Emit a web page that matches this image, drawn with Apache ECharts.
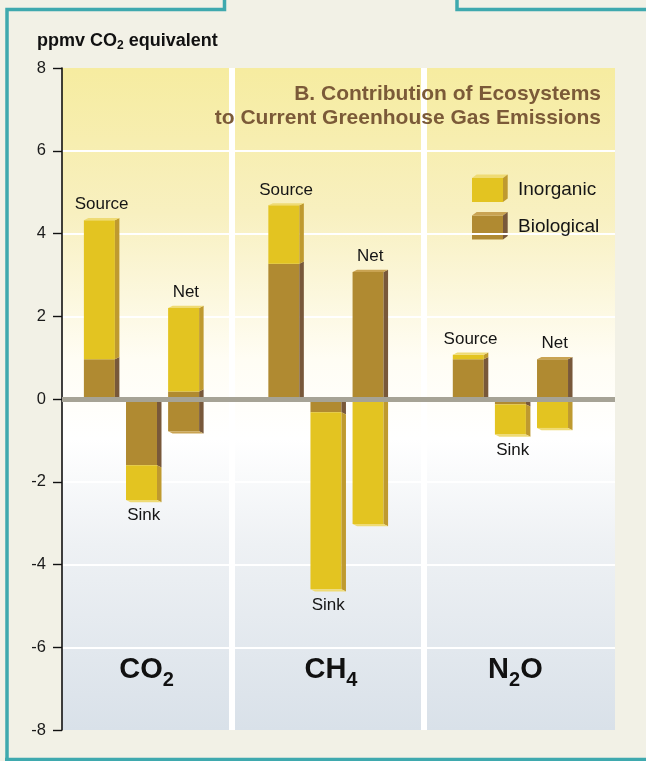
<!DOCTYPE html>
<html>
<head>
<meta charset="utf-8">
<script src="https://cdn.jsdelivr.net/npm/echarts@6/dist/echarts.min.js"></script>
<style>
html, body { margin: 0; padding: 0; background: #f2f1e6; }
#chart { width: 646px; height: 761px; }
</style>
</head>
<body>
<div id="chart"></div>
<script>
// gases (rich text, {s|..} = subscript) and the three bars drawn for each gas
const gases = ['CO{s|2}', 'CH{s|4}', 'N{s|2}O'];
const barKinds = ['Source', 'Sink', 'Net'];

// one entry per bar: CO2 Source/Sink/Net, CH4 Source/Sink/Net, N2O Source/Sink/Net
// ppmv CO2 equivalent, low and high end of each coloured segment
const bioLow    = [0,    -1.6,  -0.78, 0,    -0.32, 0,     0,    -0.13, 0];
const bioHigh   = [0.96,  0,     0.18, 3.27,  0,    3.07,  0.96,  0,    0.96];
const inorgLow  = [0.96, -2.44,  0.18, 3.27, -4.6, -3.02,  0.96, -0.86, -0.7];
const inorgHigh = [4.32, -1.6,   2.2,  4.68, -0.32, 0,     1.07, -0.13, 0];

const yMin = -8, yMax = 8, yStep = 2;

const FONT = "'Liberation Sans', Arial, Helvetica, sans-serif";
const KIND_STEP = 0.2283;   // distance between bars of one gas, in gas units
const HALF = 15.5, D = 4.5, DY = 2.2;

const barTop = i => Math.max(bioHigh[i], inorgHigh[i]);
const barBottom = i => Math.min(bioLow[i], inorgLow[i]);
const xOf = i => Math.floor(i / 3) + (i % 3 - 1) * KIND_STEP;
const lift = v => v > 0 ? -DY : (v < 0 ? DY : 0);

function segmentRenderer(front, side, cap) {
  return function (params, api) {
    const i = api.value(0), lo = api.value(1), hi = api.value(2);
    if (lo === hi) return;
    const pHi = api.coord([xOf(i), hi]);
    const pLo = api.coord([xOf(i), lo]);
    const x0 = pHi[0] - HALF, x1 = pHi[0] + HALF;
    const yT = pHi[1], yB = pLo[1];
    const children = [
      { type: 'rect', shape: { x: x0, y: yT, width: x1 - x0, height: yB - yT }, style: { fill: front } },
      { type: 'polygon', shape: { points: [[x1, yT], [x1 + D, yT + lift(hi)], [x1 + D, yB + lift(lo)], [x1, yB]] }, style: { fill: side } }
    ];
    if (hi === barTop(i) && hi > 0) {
      children.push({ type: 'polygon', shape: { points: [[x0, yT], [x1, yT], [x1 + D, yT - DY], [x0 + D, yT - DY]] }, style: { fill: cap } });
    }
    if (lo === barBottom(i) && lo < 0) {
      children.push({ type: 'polygon', shape: { points: [[x0, yB], [x1, yB], [x1 + D, yB + DY], [x0 + D, yB + DY]] }, style: { fill: cap } });
    }
    return { type: 'group', children };
  };
}

function swatch(y, front, side, cap) {
  const x0 = 472, x1 = 503, h = 24, d = 4.7, dy = 3.5;
  return {
    type: 'group',
    children: [
      { type: 'rect', shape: { x: x0, y: y, width: x1 - x0, height: h }, style: { fill: front } },
      { type: 'polygon', shape: { points: [[x0, y], [x1, y], [x1 + d, y - dy], [x0 + d, y - dy]] }, style: { fill: cap } },
      { type: 'polygon', shape: { points: [[x1, y], [x1 + d, y - dy], [x1 + d, y + h - dy], [x1, y + h]] }, style: { fill: side } }
    ]
  };
}

const INORG = ['#e3c421', '#bf9a2f', '#efdb74'];
const BIO = ['#b08a31', '#78583a', '#c9a352'];

const chart = echarts.init(document.getElementById('chart'));

const option = {
  backgroundColor: '#f2f1e6',
  animation: false,
  grid: {
    left: 62, right: 31, top: 68, bottom: 31,
    show: true, borderWidth: 0,
    backgroundColor: new echarts.graphic.LinearGradient(0, 0, 0, 1, [
      { offset: 0, color: '#f6eca0' },
      { offset: 0.22, color: '#f8f0c0' },
      { offset: 0.44, color: '#fffdf4' },
      { offset: 0.56, color: '#ffffff' },
      { offset: 0.72, color: '#eef1f4' },
      { offset: 1, color: '#d9e1e9' }
    ])
  },
  xAxis: {
    type: 'value', min: -0.431, max: 2.567,
    show: false
  },
  yAxis: {
    type: 'value', min: yMin, max: yMax, interval: yStep,
    axisLine: { show: true, onZero: false, lineStyle: { color: '#111', width: 1.6 } },
    axisTick: { show: true, length: 9, lineStyle: { color: '#111', width: 1.4 } },
    axisLabel: { color: '#1a1a1a', fontSize: 16.5, fontFamily: FONT, margin: 16 },
    splitLine: { show: true, showMinLine: false, showMaxLine: false, lineStyle: { color: '#ffffff', width: 2 } }
  },
  series: [
    {
      // white columns between the gases
      type: 'line', data: [], z: 1, silent: true,
      markLine: {
        silent: true, symbol: 'none', label: { show: false },
        lineStyle: { color: '#ffffff', width: 6, type: 'solid' },
        data: [{ xAxis: 0.493 }, { xAxis: 1.535 }]
      }
    },
    {
      name: 'Biological', type: 'custom', z: 3,
      renderItem: segmentRenderer(BIO[0], BIO[1], BIO[2]),
      encode: { x: 0, y: [1, 2] },
      data: bioLow.map((v, i) => [i, v, bioHigh[i]])
    },
    {
      name: 'Inorganic', type: 'custom', z: 3,
      renderItem: segmentRenderer(INORG[0], INORG[1], INORG[2]),
      encode: { x: 0, y: [1, 2] },
      data: inorgLow.map((v, i) => [i, v, inorgHigh[i]])
    },
    {
      // zero line over the bars
      type: 'line', data: [], z: 5, silent: true,
      markLine: {
        silent: true, symbol: 'none', label: { show: false },
        lineStyle: { color: '#a6a396', width: 5, type: 'solid' },
        data: [{ yAxis: 0 }]
      }
    },
    {
      // Source / Sink / Net labels
      type: 'custom', z: 6, silent: true,
      encode: { x: 0 },
      data: bioLow.map((v, i) => [i]),
      renderItem: function (params, api) {
        const i = api.value(0);
        const kind = barKinds[i % 3];
        const sink = kind === 'Sink';
        const p = api.coord([xOf(i), sink ? barBottom(i) : barTop(i)]);
        return {
          type: 'text', x: p[0] + D / 2, y: sink ? p[1] + 7 : p[1] - 7,
          style: {
            text: kind, fill: '#151515', fontSize: 17, fontFamily: FONT,
            align: 'center', verticalAlign: sink ? 'top' : 'bottom'
          }
        };
      }
    },
    {
      // gas names at the foot of each column
      type: 'custom', z: 6, silent: true,
      encode: { x: 0 },
      data: gases.map((g, i) => [i]),
      renderItem: function (params, api) {
        const g = api.value(0);
        const p = api.coord([g, -6.55]);
        return {
          type: 'text', x: p[0] + 5, y: p[1],
          style: {
            text: gases[g], fill: '#111', fontSize: 29, fontWeight: 'bold', fontFamily: FONT,
            lineHeight: 30, align: 'center', verticalAlign: 'middle',
            rich: {
              s: { fontSize: 20, fontWeight: 'bold', fontFamily: FONT, fill: '#111', lineHeight: 20, padding: [20, 0, 0, 0] }
            }
          }
        };
      }
    }
  ],
  graphic: [
    {
      type: 'text', x: 37, y: 41.5, z: 10,
      style: {
        text: 'ppmv CO{s|2} equivalent', fill: '#111', fontSize: 18, fontWeight: 'bold', fontFamily: FONT,
        lineHeight: 18, verticalAlign: 'middle',
        rich: { s: { fontSize: 12, fontWeight: 'bold', fontFamily: FONT, fill: '#111', lineHeight: 12, padding: [9, 0, 0, 0] } }
      }
    },
    {
      type: 'text', x: 601, y: 82.5, z: 10,
      style: {
        text: 'B. Contribution of Ecosystems\nto Current Greenhouse Gas Emissions',
        fill: '#7b5a38', fontSize: 21, fontWeight: 'bold', fontFamily: FONT,
        lineHeight: 24, align: 'right', verticalAlign: 'top'
      }
    },
    Object.assign(swatch(178, INORG[0], INORG[1], INORG[2]), { z: 10 }),
    Object.assign(swatch(215.5, BIO[0], BIO[1], BIO[2]), { z: 10 }),
    {
      type: 'text', x: 518, y: 189.5, z: 10,
      style: { text: 'Inorganic', fill: '#151515', fontSize: 19, fontFamily: FONT, verticalAlign: 'middle' }
    },
    {
      type: 'text', x: 518, y: 227, z: 10,
      style: { text: 'Biological', fill: '#151515', fontSize: 19, fontFamily: FONT, verticalAlign: 'middle' }
    },
    {
      type: 'polyline', z: 10,
      shape: { points: [[7, 761], [7, 9.5], [224.5, 9.5], [224.5, 0]] },
      style: { stroke: '#3fa9ae', lineWidth: 3.5, fill: null }
    },
    {
      type: 'polyline', z: 10,
      shape: { points: [[457, 0], [457, 9.5], [646, 9.5]] },
      style: { stroke: '#3fa9ae', lineWidth: 3.5, fill: null }
    },
    {
      type: 'line', z: 10,
      shape: { x1: 5, y1: 759.5, x2: 646, y2: 759.5 },
      style: { stroke: '#3fa9ae', lineWidth: 3.5 }
    }
  ]
};

chart.setOption(option);
</script>
</body>
</html>
